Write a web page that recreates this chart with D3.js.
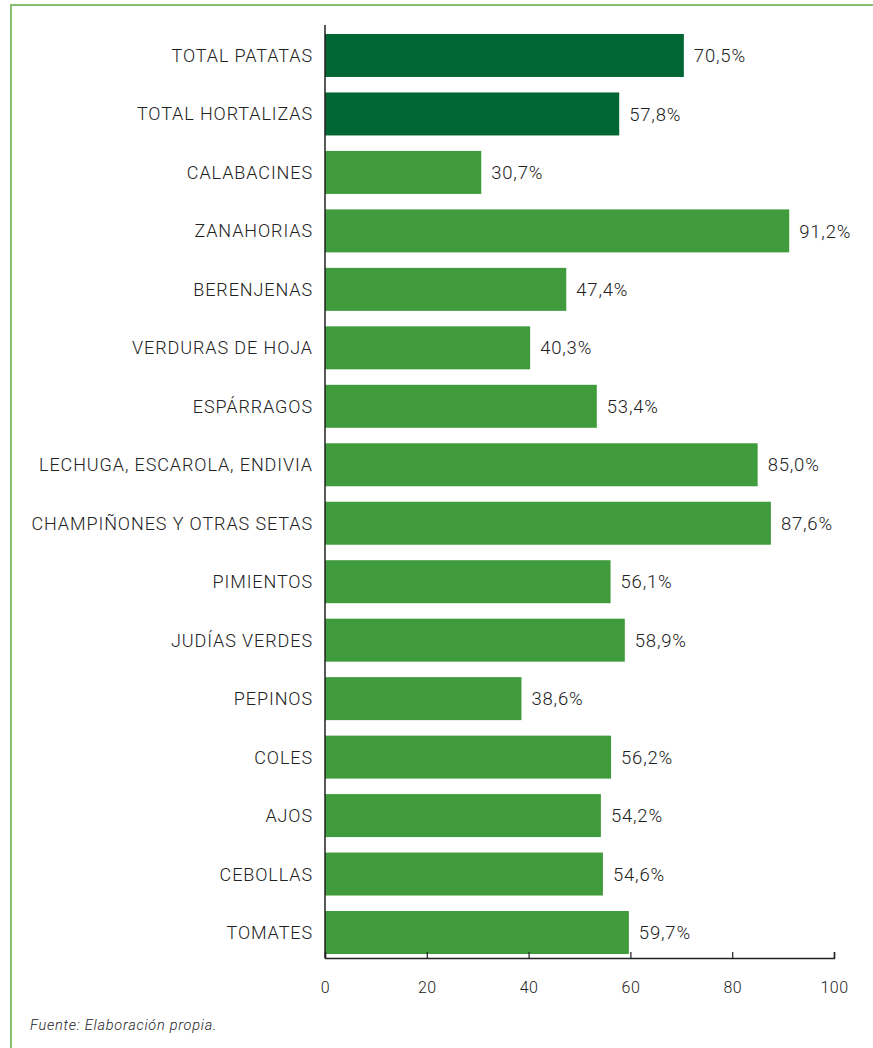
<!DOCTYPE html>
<html>
<head>
<meta charset="utf-8">
<script src="https://cdn.jsdelivr.net/npm/d3@7"></script>
<style>
  html, body { margin: 0; padding: 0; background: #fff; }
  svg { display: block; }
</style>
</head>
<body>
<script>
// Share by product (%)
const categories = [
  "TOTAL PATATAS", "TOTAL HORTALIZAS", "CALABACINES", "ZANAHORIAS", "BERENJENAS",
  "VERDURAS DE HOJA", "ESPÁRRAGOS", "LECHUGA, ESCAROLA, ENDIVIA",
  "CHAMPIÑONES Y OTRAS SETAS", "PIMIENTOS", "JUDÍAS VERDES", "PEPINOS",
  "COLES", "AJOS", "CEBOLLAS", "TOMATES"
];
const values = [70.5, 57.8, 30.7, 91.2, 47.4, 40.3, 53.4, 85.0, 87.6, 56.1, 58.9, 38.6, 56.2, 54.2, 54.6, 59.7];
const totals = ["TOTAL PATATAS", "TOTAL HORTALIZAS"];
const xTicks = [0, 20, 40, 60, 80, 100];
const source = "Fuente: Elaboración propia.";

const W = 873, H = 1048;
const svg = d3.select("body").append("svg").attr("width", W).attr("height", H);

const font = "Roboto, 'DejaVu Sans', sans-serif";
const textColor = "#222222";

// frame lines
svg.append("line").attr("x1", 11).attr("x2", W).attr("y1", 5).attr("y2", 5)
  .attr("stroke", "#84c070").attr("stroke-width", 2);
svg.append("line").attr("x1", 11).attr("x2", 11).attr("y1", 4).attr("y2", H)
  .attr("stroke", "#84c070").attr("stroke-width", 2);

const x = d3.scaleLinear().domain([0, 100]).range([325, 834]);
const y = d3.scaleBand().domain(categories).range([29.5, 958.5])
  .paddingInner(0.265).paddingOuter(0.077);

// bars
svg.append("g").selectAll("rect").data(categories).join("rect")
  .attr("x", x(0))
  .attr("y", d => y(d))
  .attr("width", (d, i) => x(values[i]) - x(0))
  .attr("height", y.bandwidth())
  .attr("fill", d => totals.includes(d) ? "#006633" : "#3f9b3b");

// value labels
svg.append("g").selectAll("text").data(categories).join("text")
  .attr("x", (d, i) => x(values[i]) + 10)
  .attr("y", d => y(d) + y.bandwidth() / 2)
  .attr("dy", "0.36em")
  .attr("font-family", font).attr("font-size", 18.5).attr("font-weight", 300)
  .attr("letter-spacing", 0.8).attr("fill", textColor)
  .text((d, i) => values[i].toFixed(1).replace(".", ",") + "%");

// category labels
svg.append("g").selectAll("text").data(categories).join("text")
  .attr("x", 313)
  .attr("y", d => y(d) + y.bandwidth() / 2)
  .attr("dy", "0.36em")
  .attr("text-anchor", "end")
  .attr("font-family", font).attr("font-size", 18).attr("font-weight", 300)
  .attr("letter-spacing", 0.9).attr("fill", textColor)
  .text(d => d);

// x axis
const xAxis = svg.append("g").attr("transform", "translate(0,958)")
  .call(d3.axisBottom(x).tickValues(xTicks).tickSizeInner(-6).tickSizeOuter(-6).tickPadding(24));
xAxis.select(".domain").attr("stroke", "#222").attr("stroke-width", 1.5);
xAxis.selectAll(".tick line").attr("stroke", "#222").attr("stroke-width", 1.2);
xAxis.selectAll(".tick text").attr("font-family", font).attr("font-size", 16)
  .attr("font-weight", 300).attr("letter-spacing", 0.4).attr("fill", textColor);

// y axis line
svg.append("line").attr("x1", x(0)).attr("x2", x(0)).attr("y1", 25).attr("y2", 958)
  .attr("stroke", "#222").attr("stroke-width", 1.5);

// source note
svg.append("text").attr("x", 30).attr("y", 1030)
  .attr("font-family", font).attr("font-size", 14.5).attr("font-style", "italic")
  .attr("font-weight", 300).attr("letter-spacing", 0.75)
  .attr("fill", textColor).text(source);
</script>
</body>
</html>
